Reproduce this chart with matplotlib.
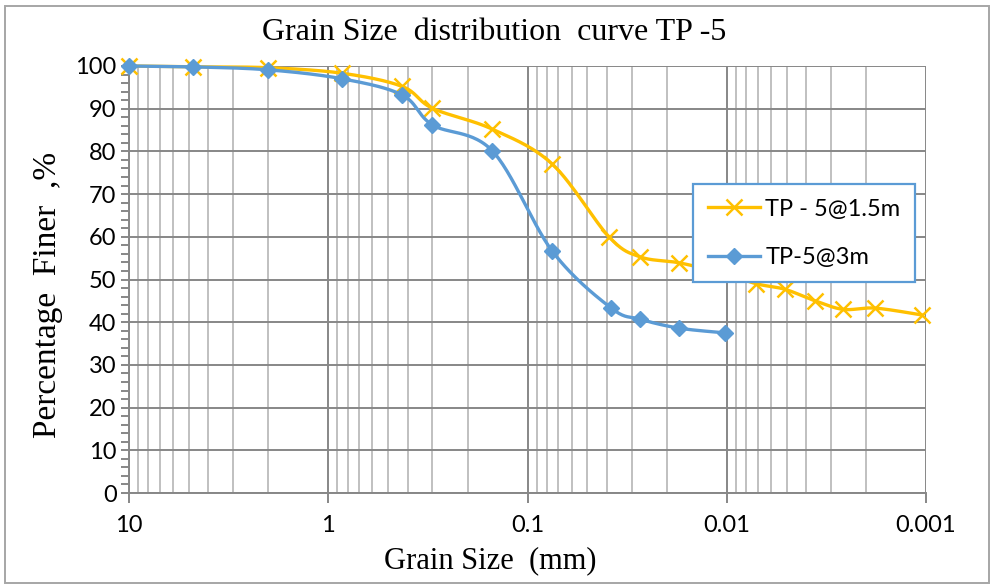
import numpy as np
import matplotlib
matplotlib.use("Agg")
import matplotlib.pyplot as plt
from matplotlib.patches import Rectangle
from matplotlib.ticker import FixedLocator, NullFormatter, LogLocator

# sieve / hydrometer results, grain size in mm and percent finer
size_15 = [10, 4.75, 2.0, 0.85, 0.425, 0.3, 0.15, 0.075, 0.039, 0.0272, 0.0173,
           0.0105, 0.0071, 0.0051, 0.0036, 0.0026, 0.0018, 0.00105]
finer_15 = [100, 99.8, 99.6, 98.3, 95.2, 90.1, 85.2, 77.0, 60.0, 55.3, 53.9,
            51.5, 49.0, 47.7, 45.0, 43.0, 43.3, 41.7]

size_3 = [10, 4.75, 2.0, 0.85, 0.425, 0.3, 0.15, 0.075, 0.038, 0.0272, 0.0173, 0.0102]
finer_3 = [100, 99.8, 99.1, 97.0, 93.2, 86.2, 80.1, 56.6, 43.3, 40.7, 38.6, 37.5]

label_15 = "TP - 5@1.5m"
label_3 = "TP-5@3m"

ORANGE = "#FFC000"
BLUE = "#5B9BD5"
SERIF = "Liberation Serif"
SANS = "Lato"

W, H = 991, 584


def smooth(xs, ys, n=30):
    """Excel-style smoothed line: cubic Bezier through the points with
    Catmull-Rom control points, computed in log-x / pixel-like space."""
    u = np.log10(np.asarray(xs, float)) * 199.3
    v = np.asarray(ys, float) * 4.27
    pts = np.column_stack([u, v])
    out = [pts[0]]
    m = len(pts)
    for i in range(m - 1):
        p0 = pts[i - 1] if i > 0 else pts[i]
        p1, p2 = pts[i], pts[i + 1]
        p3 = pts[i + 2] if i + 2 < m else pts[i + 1]
        c1 = p1 + (p2 - p0) / 6.0
        c2 = p2 - (p3 - p1) / 6.0
        t = np.linspace(0, 1, n)[1:, None]
        seg = ((1 - t) ** 3) * p1 + 3 * ((1 - t) ** 2) * t * c1 \
            + 3 * (1 - t) * t ** 2 * c2 + t ** 3 * p2
        out.extend(seg)
    out = np.array(out)
    return 10 ** (out[:, 0] / 199.3), out[:, 1] / 4.27


fig = plt.figure(figsize=(W / 100, H / 100), dpi=100)
ax = fig.add_axes([129 / W, 1 - 493 / H, (926 - 129) / W, (493 - 66) / H])

ax.set_xscale("log")
ax.set_xlim(10, 0.001)
ax.set_ylim(0, 100)

# grid: decades darker, in-between lines lighter
ax.xaxis.set_major_locator(FixedLocator([10, 1, 0.1, 0.01, 0.001]))
ax.xaxis.set_minor_locator(LogLocator(base=10, subs=np.arange(2, 10)))
ax.xaxis.set_minor_formatter(NullFormatter())
ax.set_xticklabels(["10", "1", "0.1", "0.01", "0.001"])
ax.set_yticks(np.arange(0, 101, 10))
ax.set_yticks(np.arange(0, 101, 2), minor=True)

ax.grid(which="major", axis="both", color="#878787", lw=1.4, zorder=0)
ax.grid(which="minor", axis="x", color="#c0c0c0", lw=1.4, zorder=0)

for s in ["top", "right"]:
    ax.spines[s].set_visible(False)
ax.spines["left"].set_color("#878787")
ax.spines["bottom"].set_color("#878787")
ax.spines["left"].set_linewidth(1.4)
ax.spines["bottom"].set_linewidth(1.4)

ax.tick_params(axis="x", which="major", direction="out", length=7, width=1.4,
               color="#878787", pad=9, labelsize=17)
ax.tick_params(axis="x", which="minor", length=0)
ax.tick_params(axis="y", which="both", direction="out", length=6, width=1.4,
               color="#878787", pad=3, labelsize=17)
for lab in ax.get_xticklabels() + ax.get_yticklabels():
    lab.set_fontfamily(SANS)

# curves
sx, sy = smooth(size_15, finer_15)
ax.plot(sx, sy, color=ORANGE, lw=2.4, zorder=3, solid_capstyle="round", clip_on=False)
ax.plot(size_15, finer_15, ls="none", marker="x", ms=11, mew=1.8, color=ORANGE,
        zorder=4, clip_on=False)

sx, sy = smooth(size_3, finer_3)
ax.plot(sx, sy, color=BLUE, lw=2.4, zorder=5, solid_capstyle="round", clip_on=False)
ax.plot(size_3, finer_3, ls="none", marker="D", ms=8.5, color=BLUE, zorder=6, clip_on=False)

# legend proxies (line + marker)
h1, = ax.plot([], [], color=ORANGE, lw=2.4, marker="x", ms=11, mew=1.8)
h2, = ax.plot([], [], color=BLUE, lw=2.4, marker="D", ms=8.5)
leg = fig.legend([h1, h2], [label_15, label_3], loc="upper left",
                 bbox_to_anchor=(693 / W, 1 - 184 / H), prop={"family": SANS, "size": 17},
                 frameon=True, fancybox=False, framealpha=1, edgecolor=BLUE,
                 handlelength=2.2, handletextpad=0.25, borderpad=0.62,
                 labelspacing=1.15, borderaxespad=0)
leg.get_frame().set_linewidth(1.6)
leg.set_zorder(10)

fig.text(494 / W, 1 - 33 / H, "Grain Size  distribution  curve TP -5", family=SERIF,
         fontsize=23, ha="center", va="center")
fig.text(48 / W, 1 - 295 / H, "Percentage  Finer  ,%", family=SERIF, fontsize=24,
         rotation=90, ha="center", va="center")
fig.text(490 / W, 1 - 561 / H, "Grain Size  (mm)", family=SERIF, fontsize=22,
         ha="center", va="center")

# chart border
fig.patches.append(Rectangle((5 / W, 1 - 583 / H), 984 / W, 577 / H,
                             transform=fig.transFigure, fill=False,
                             edgecolor="#a6a6a6", lw=1.4))

fig.savefig("out.png", dpi=100)
